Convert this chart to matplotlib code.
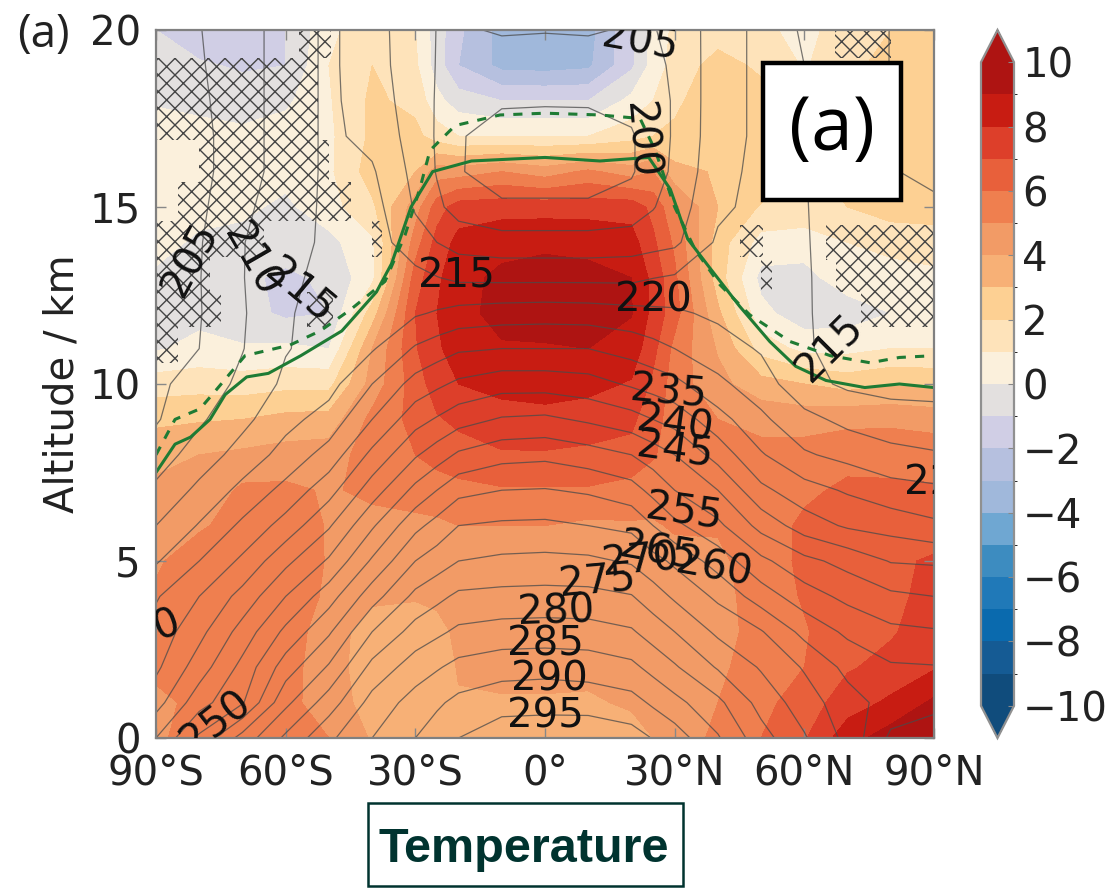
import numpy as np
import matplotlib
matplotlib.use('Agg')
import matplotlib.pyplot as plt
from matplotlib.colors import ListedColormap, BoundaryNorm
from matplotlib.patches import Rectangle

# latitude (deg) and altitude (km) of the grid
lats = [-90, -80, -70, -60, -50, -40, -30, -25, -20, -10, 0, 10, 20, 25, 30, 40, 50, 60, 70, 80, 90]
alts = list(range(0, 21))

# temperature change, one row per latitude, altitude 0..20 km
dtemp = [
    [4.8, 4.9, 5.1, 5.3, 5.1, 4.9, 4.7, 4.3, 3.6, 2.8, 1.5, -0.1, -0.1, -0.1, 0.2, 0.3, 0.7, 0.5, -0.1, -0.7, -1.0],
    [5.5, 5.1, 5.2, 5.3, 5.4, 5.4, 4.9, 4.2, 4.0, 2.9, 1.6, 0.3, -0.3, -0.4, -0.1, 0.2, 0.4, 0.5, -0.4, -0.9, -1.5],
    [5.7, 5.3, 5.2, 5.3, 5.4, 5.4, 5.3, 5.2, 4.2, 3.0, 1.5, 0.1, -0.6, -0.8, -0.3, 0.2, 0.3, 0.3, -0.6, -1.1, -1.5],
    [5.6, 5.3, 5.4, 5.5, 5.7, 5.8, 5.7, 5.2, 4.4, 3.3, 1.7, 0.2, -1.2, -1.2, -0.5, -0.2, 0.3, 0.5, -0.2, -1.0, -1.0],
    [5.0, 4.5, 4.4, 4.5, 4.8, 4.9, 4.9, 4.9, 4.5, 3.4, 1.7, 0.0, -1.0, -0.8, -0.3, 0.6, 0.8, 0.8, 0.9, 1.0, 0.7],
    [3.9, 3.6, 3.5, 3.5, 4.2, 4.4, 4.7, 5.2, 5.5, 5.3, 4.4, 4.0, 2.5, 0.7, 0.8, 1.8, 2.5, 2.2, 2.2, 2.0, 1.8],
    [3.5, 3.2, 3.0, 3.4, 4.1, 4.2, 4.7, 5.5, 6.0, 6.3, 6.5, 6.9, 7.0, 6.5, 5.5, 4.5, 3.0, 2.3, 1.7, 1.2, 1.0],
    [3.5, 3.3, 3.3, 3.7, 4.2, 4.3, 4.8, 5.6, 6.3, 6.9, 7.5, 7.9, 8.0, 7.8, 7.4, 6.5, 4.5, 1.5, 0.3, -0.5, -0.5],
    [3.6, 3.9, 4.1, 4.2, 4.3, 4.5, 5.0, 5.7, 6.6, 7.2, 8.0, 8.3, 8.7, 8.7, 8.3, 7.5, 4.5, 1.0, -0.5, -2.0, -1.8],
    [3.6, 3.9, 4.3, 4.3, 4.4, 4.5, 5.0, 5.9, 6.9, 7.6, 8.3, 8.9, 9.3, 9.2, 8.7, 7.6, 5.0, 1.0, -1.0, -3.3, -3.4],
    [3.5, 3.9, 4.3, 4.4, 4.6, 4.7, 5.0, 5.9, 6.9, 7.7, 8.4, 8.9, 9.5, 9.4, 8.8, 7.6, 4.5, 1.0, -1.0, -3.4, -3.6],
    [3.5, 3.9, 4.2, 4.3, 4.4, 4.4, 4.8, 5.9, 6.8, 7.5, 8.3, 9.0, 9.4, 9.3, 8.7, 7.6, 5.2, 1.0, -1.0, -3.2, -3.4],
    [3.7, 4.1, 4.4, 4.6, 4.6, 4.5, 4.9, 5.6, 6.7, 7.2, 7.9, 8.6, 9.05, 9.0, 8.4, 7.6, 4.5, 1.6, 0.3, -1.2, -1.2],
    [4.0, 4.4, 4.5, 4.6, 4.6, 4.5, 4.9, 5.4, 6.1, 6.4, 6.8, 7.3, 7.7, 7.7, 7.2, 6.7, 5.0, 2.0, 1.0, 0.4, 0.4],
    [4.5, 4.6, 4.5, 4.5, 4.6, 4.7, 5.1, 5.4, 5.5, 5.5, 5.5, 5.7, 6.4, 6.2, 5.8, 5.2, 3.3, 2.2, 1.8, 1.4, 1.2],
    [5.2, 5.0, 4.8, 4.7, 4.7, 4.8, 5.1, 5.3, 5.4, 5.0, 4.3, 3.9, 3.2, 2.5, 2.5, 3.0, 2.9, 2.9, 2.7, 2.4, 1.5],
    [6.0, 5.7, 5.5, 5.3, 5.4, 5.5, 5.2, 5.3, 5.3, 4.7, 3.4, 1.6, 0.3, -0.3, 0.6, 1.9, 2.8, 2.6, 2.4, 1.8, 1.2],
    [6.9, 6.5, 6.0, 5.9, 6.1, 6.2, 6.3, 5.7, 5.4, 4.6, 3.0, 0.7, -0.6, -0.3, 0.4, 1.8, 1.8, 1.3, 1.1, 0.9, 0.7],
    [8.6, 7.5, 6.9, 6.7, 6.6, 6.6, 6.5, 6.3, 5.5, 4.8, 2.6, 0.7, -0.5, 0.5, 1.0, 2.0, 2.5, 2.4, 2.2, 1.7, 1.5],
    [9.5, 8.2, 7.3, 6.9, 6.7, 6.7, 6.7, 6.2, 5.6, 4.8, 2.9, 1.0, 0.0, 0.6, 1.3, 2.5, 2.9, 2.8, 2.5, 2.4, 2.0],
    [9.9, 9.2, 7.9, 7.5, 7.4, 7.2, 6.2, 6.1, 5.6, 4.6, 2.8, 1.0, 0.3, 0.8, 1.4, 2.6, 3.0, 2.8, 2.6, 2.4, 2.0],
]

# background temperature (K), same layout
temp = [
    [240, 233, 229, 227, 224.5, 219.5, 215, 211, 207.5, 204.5, 204, 203.5, 203, 202.5, 202, 201.5, 201.2, 201, 201, 201.5, 202],
    [251, 243, 237.5, 233.5, 230, 225, 220.4, 216.2, 212.3, 209.2, 207, 205, 204.7, 204.8, 204.6, 204, 203.5, 203.5, 204, 204.5, 204.8],
    [262, 249.5, 246.5, 242, 236.7, 231, 226, 221.4, 217, 213.7, 211.2, 209.8, 209.5, 209.8, 209.8, 209, 208, 208, 208, 208, 208],
    [271, 263.8, 257.5, 251.2, 245, 238.7, 232, 226.5, 221.8, 218.5, 216, 214.7, 214.6, 214, 213, 212.5, 212, 212, 212, 212, 212],
    [279, 272.5, 265.6, 259.3, 252.8, 245.7, 239.4, 233.1, 227, 222, 218.3, 217, 216.5, 216.3, 216, 216, 216, 216, 216, 216, 216],
    [285, 281.8, 276.5, 270, 262.8, 255.7, 249.3, 242.5, 236.3, 230, 225, 219.5, 218.5, 218, 217.5, 217, 215.6, 213.5, 212.5, 212, 212],
    [290, 287, 282.5, 277, 271.3, 265, 258.6, 251.4, 244.4, 238.1, 231.9, 225.6, 219.4, 216.6, 212, 209.5, 208.5, 208, 207.7, 207.3, 207],
    [292.5, 289.2, 284.5, 279, 273.7, 267.5, 261.8, 255, 247.6, 240.5, 234, 227.5, 220.5, 215.2, 210, 206, 204.7, 204.5, 204.6, 204.8, 204.9],
    [295, 291.3, 286.5, 281, 276, 270, 265, 258.5, 250.8, 243, 236, 229.3, 221.7, 214, 208, 203, 200.5, 200.5, 202, 203.5, 204.5],
    [298, 293, 288, 282, 276.5, 271, 265.8, 260, 253.3, 245.5, 238, 230, 222.5, 213.8, 207, 201, 197, 197.6, 200.7, 203, 205.4],
    [298, 293.4, 288.3, 282.2, 276.7, 271.3, 266, 260.3, 253.8, 246, 238, 230, 222.8, 213.8, 207, 201, 197, 197.5, 200.5, 203, 205.2],
    [298.5, 293, 287.8, 282, 276.5, 271, 265, 259.3, 252.2, 244.2, 237, 230, 222.5, 213.8, 207, 201, 197, 197.5, 200.6, 203, 205.4],
    [297, 291.8, 286.2, 280.6, 275.3, 269.4, 263.8, 257, 250, 242, 234.3, 228, 221.7, 213.8, 207.5, 202, 199.5, 199.5, 201.5, 203.5, 204.6],
    [294.8, 289.2, 283.4, 277.8, 272.3, 266.7, 260, 253.5, 247.5, 240, 232.9, 226.5, 221.2, 214.9, 208.2, 204.7, 202.7, 202.5, 203.4, 204.4, 204.9],
    [292.5, 286.5, 280.6, 275, 269.2, 264, 256.2, 250, 245, 238.1, 231.4, 225, 220.8, 215.6, 209, 207.5, 206, 205.6, 205.4, 205.4, 205.5],
    [285.5, 281.2, 274.5, 269, 264, 257.8, 251.2, 245, 238, 232, 226.1, 222.3, 219, 217.3, 215.8, 214, 213.5, 213, 213, 213, 213],
    [277, 273.2, 269.5, 265.4, 257.5, 251.2, 243.3, 236.2, 230.5, 226, 222.4, 219.5, 218, 217.5, 217, 216.5, 216.2, 216, 216, 216, 216],
    [270.5, 267.5, 264.5, 258.5, 252.3, 246.4, 237.5, 232, 225.6, 221.5, 216.5, 215.6, 215.5, 215.5, 215.4, 215.3, 215.2, 215.2, 215.2, 215, 214.8],
    [263.5, 262, 258.6, 254, 248.7, 243.3, 234.3, 229.4, 223.5, 218.6, 214.2, 213, 212.8, 212.6, 212.4, 212.2, 212, 212, 212, 212.3, 212.5],
    [254, 258, 255.6, 251.2, 246, 239.7, 233, 226.9, 221.5, 217, 213.5, 212, 211.5, 211.2, 211, 210.8, 210.1, 209.6, 209.8, 209.9, 209.9],
    [252, 256.5, 255.3, 250.5, 245, 239.3, 231, 226, 220.5, 216.5, 213.5, 212, 211.3, 211, 210.7, 210.3, 209.6, 209.2, 209.5, 209.8, 209.9],
]

# tropopause, solid and dashed
tp_lat = [-90, -85.6, -82, -77.5, -74, -69, -64, -56.5, -47, -39, -35.5, -31, -26, -17, 0, 12.7, 24, 29, 33, 38, 45, 52, 58, 65, 74, 82, 90]
tp_alt = [7.5, 8.3, 8.5, 9.0, 9.7, 10.2, 10.3, 10.8, 11.5, 12.6, 13.4, 15, 16, 16.3, 16.4, 16.3, 16.4, 15.5, 14.1, 13.3, 12.2, 11.2, 10.5, 10.1, 9.9, 10, 9.9]
tp2_lat = [-90, -85.6, -79.8, -76.3, -69.4, -59, -52, -45, -37, -32.4, -29, -26.6, -20.8, -10.4, 0, 12.7, 22, 25.5, 30, 34.7, 40.5, 47.4, 56.7, 66, 75.2, 82, 90]
tp2_alt = [8, 9, 9.3, 9.8, 10.8, 11.1, 11.5, 12.1, 12.9, 14.2, 15.5, 16.6, 17.3, 17.6, 17.65, 17.6, 17.5, 16.6, 15, 13.8, 12.8, 11.95, 11.2, 10.8, 10.6, 10.75, 10.8]

# not significant areas (hatched)
hatch_lat0 = [-90, -57, -80, -85, -90, -90, -90, -90, -55, -40, 67, 45, 50, 65, 67.3, 73]
hatch_lat1 = [-52.5, -49.5, -50, -45, -65, -77.5, -75, -85, -49, -37.7, 80, 50.5, 52.5, 90, 90, 90]
hatch_alt0 = [16.9, 19.2, 15.7, 14.6, 13.6, 12.6, 11.6, 10.6, 11.6, 13.6, 19.2, 13.6, 12.6, 13.5, 12.6, 11.6]
hatch_alt1 = [19.2, 20, 16.9, 15.7, 14.6, 13.6, 12.6, 11.6, 12.6, 14.6, 20, 14.5, 13.6, 14.5, 13.5, 12.6]

# contour labels: text, x and y on the axes, rotation
lab_text = ['205', '210', '215', '215', '220', '215', '235', '240', '245', '255', '265', '270', '260', '275', '280', '285', '290', '295', '205', '200', '230', '250', '225']
lab_lat = [-82, -68, -57, -20.5, 25, 66, 28.5, 30, 30, 32, 26, 22, 39, 12, 2.5, 0, 1, 0, 22, 22, -93, -76, 92]
lab_alt = [13.5, 13.5, 12.6, 13.05, 12.35, 11, 9.75, 8.85, 8.1, 6.35, 5.25, 5, 4.8, 4.4, 3.55, 2.65, 1.65, 0.6, 19.65, 16.9, 2.95, 0.45, 7.2]
lab_rot = [62, -60, -40, 0, 0, 45, -5, -8, -8, -8, -10, 5, -10, 5, 2, 0, 0, 0, -10, -85, 20, 38, 0]

colors = ['#104C7C', '#155B94', '#0A6AAE', '#2079B8', '#3D8CC0', '#6FA7D2', '#A0B8DB', '#B6C0DF', '#D0CEE5', '#E3E0DF',
          '#FBF0DC', '#FEE3BA', '#FDD093', '#F7B076', '#F29B66', '#EF7F4F', '#E8603B', '#DD3F2A', '#C81C12', '#AE1412']

plt.rcParams['hatch.color'] = '#444444'
plt.rcParams['hatch.linewidth'] = 1.0
txt = '#222222'

W, H = 1108, 891
fig = plt.figure(figsize=(W / 100, H / 100), dpi=100)


def box(x0, y0, x1, y1):
    # pixel box to figure fraction
    return [x0 / W, 1 - y1 / H, (x1 - x0) / W, (y1 - y0) / H]


ax = fig.add_axes(box(156, 30, 934, 738))
levels = np.arange(-10, 11, 1)
cmap = ListedColormap(colors)
cmap.set_under(colors[0])
cmap.set_over(colors[-1])
norm = BoundaryNorm(levels, cmap.N)

dt = np.array(dtemp).T
tt = np.array(temp).T
cf = ax.contourf(lats, alts, dt, levels=levels, cmap=cmap, norm=norm, extend='both')
ax.contour(lats, alts, tt, levels=np.arange(200, 300, 5), colors='#4a4a4a', linewidths=0.9, alpha=0.75)

for a, b, c, d in zip(hatch_lat0, hatch_lat1, hatch_alt0, hatch_alt1):
    ax.bar(a, d - c, width=b - a, bottom=c, align='edge', facecolor='none', edgecolor='#444444', hatch='xx', linewidth=0)

ax.plot(tp_lat, tp_alt, color='#1e7b34', lw=2.2)
ax.plot(tp2_lat, tp2_alt, color='#1e7b34', lw=2.2, ls=(0, (3, 3)))

for s, a, b, r in zip(lab_text, lab_lat, lab_alt, lab_rot):
    ax.text(a, b, s, fontsize=29, color='#111111', rotation=r, ha='center', va='center', clip_on=True,
            rotation_mode='anchor')

ax.set_xlim(-90, 90)
ax.set_ylim(0, 20)
ax.set_xticks([-90, -60, -30, 0, 30, 60, 90])
ax.set_xticklabels(['90°S', '60°S', '30°S', '0°', '30°N', '60°N', '90°N'])
ax.set_yticks([0, 5, 10, 15, 20])
ax.tick_params(direction='in', top=True, right=True, length=7, width=1, color='#888888',
               labelsize=29, labelcolor=txt)
ax.tick_params(axis='x', pad=11)
ax.tick_params(axis='y', pad=11)
for sp in ax.spines.values():
    sp.set_color('#808080')
    sp.set_linewidth(1.6)
ax.set_ylabel('Altitude / km', fontsize=29, color=txt, labelpad=5)

cax = fig.add_axes(box(981, 30, 1014, 738))
cb = fig.colorbar(cf, cax=cax, ticks=np.arange(-10, 11, 2), extendfrac=0.05)
cb.ax.tick_params(labelsize=29, labelcolor=txt, length=4, direction='in', color='#888888', pad=6)
cb.outline.set_edgecolor('#909090')
cb.outline.set_linewidth(1.6)

fig.text(17 / W, 1 - 35 / H, '(a)', fontsize=33, family='Open Sans', color=txt, ha='left', va='center')

fig.add_artist(Rectangle((763 / W, 1 - 200 / H), 138 / W, 137 / H, transform=fig.transFigure,
                         facecolor='white', edgecolor='black', linewidth=3.2, zorder=5))
fig.text(832 / W, 1 - 130 / H, '(a)', fontsize=54, family='Open Sans', color='black', ha='center', va='center', zorder=6)

fig.add_artist(Rectangle((368 / W, 1 - 886 / H), 315 / W, 83 / H, transform=fig.transFigure,
                         facecolor='white', edgecolor='#00332F', linewidth=1.8, zorder=5))
fig.text(524 / W, 1 - 849 / H, 'Temperature', fontsize=35, family='Liberation Sans', weight='bold', color='#00332F',
         ha='center', va='center', zorder=6)

fig.savefig('out.png', dpi=100)
